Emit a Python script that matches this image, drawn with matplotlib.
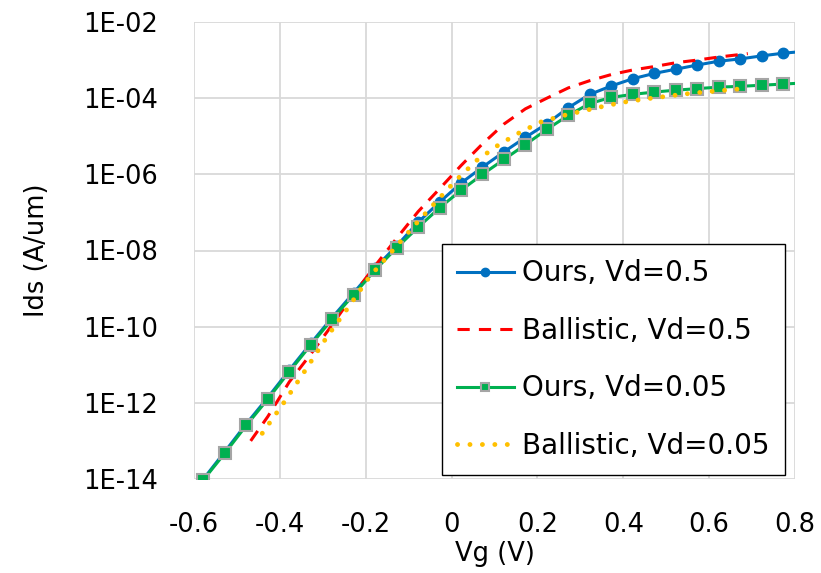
import numpy as np
import matplotlib
matplotlib.use('Agg')
import matplotlib.pyplot as plt
from matplotlib.ticker import FuncFormatter

plt.rcParams['font.family'] = ['DejaVu Sans']

# gate voltage (V) for the simulated curves
vg = [-0.578, -0.528, -0.478, -0.428, -0.378, -0.328, -0.278, -0.228, -0.178, -0.128,
      -0.078, -0.028, 0.022, 0.072, 0.122, 0.172, 0.222, 0.272, 0.322, 0.372,
      0.422, 0.472, 0.522, 0.572, 0.622, 0.672, 0.722, 0.772, 0.822]

# log10(Ids)
ours_05 = [-14.0, -13.28, -12.55, -11.86, -11.14, -10.44, -9.76, -9.11, -8.46, -7.88,
           -7.26, -6.73, -6.23, -5.81, -5.41, -5.03, -4.67, -4.25, -3.90, -3.68,
           -3.49, -3.35, -3.24, -3.13, -3.03, -2.97, -2.89, -2.82, -2.77]
ours_005 = [-14.02, -13.32, -12.59, -11.90, -11.18, -10.48, -9.80, -9.16, -8.51, -7.93,
            -7.39, -6.88, -6.42, -6.0, -5.61, -5.22, -4.82, -4.45, -4.14, -3.98,
            -3.90, -3.84, -3.79, -3.75, -3.71, -3.69, -3.66, -3.63, -3.60]

ball_05_vg = [-0.468, -0.428, -0.378, -0.328, -0.278, -0.228, -0.178, -0.128, -0.078, -0.028,
              0.022, 0.072, 0.122, 0.172, 0.222, 0.272, 0.322, 0.372, 0.422, 0.472,
              0.522, 0.572, 0.622, 0.69]
ball_05 = [-13.0, -12.36, -11.45, -10.72, -9.95, -9.15, -8.40, -7.68, -6.98, -6.38,
           -5.77, -5.2, -4.68, -4.28, -4.0, -3.73, -3.54, -3.38, -3.26, -3.17,
           -3.07, -3.0, -2.92, -2.83]

ball_005_vg = [-0.441, -0.391, -0.341, -0.291, -0.241, -0.191, -0.141, -0.091, -0.041, 0.009,
               0.059, 0.109, 0.159, 0.209, 0.259, 0.309, 0.359, 0.409, 0.459, 0.509,
               0.559, 0.609, 0.669]
ball_005 = [-12.8, -12.0, -11.15, -10.28, -9.50, -8.69, -8.05, -7.40, -6.78, -6.17,
            -5.63, -5.23, -4.90, -4.62, -4.46, -4.33, -4.20, -4.09, -4.01, -3.94,
            -3.87, -3.82, -3.76]

fig = plt.figure(figsize=(8.21, 5.73), dpi=100)
ax = fig.add_axes([194/821, 1-479/573, (795-194)/821, (479-22)/573])

ax.plot(vg, 10**np.array(ours_05), color='#0070c0', lw=2.2, marker='o', ms=7.5,
        label='Ours, Vd=0.5', zorder=3)
ax.plot(ball_05_vg, 10**np.array(ball_05), color='#ff0000', lw=2.2, linestyle=(0, (4, 3)),
        label='Ballistic, Vd=0.5', zorder=4)
ax.plot(vg, 10**np.array(ours_005), color='#00b050', lw=2.2, marker='s', ms=8,
        markerfacecolor='#00b050', markeredgecolor='#a5a5a5', markeredgewidth=1.5,
        label='Ours, Vd=0.05', zorder=5)
ax.plot(ball_005_vg, 10**np.array(ball_005), color='#ffc000', lw=3.5,
        linestyle=(0, (0.01, 2.55)), dash_capstyle='round',
        label='Ballistic, Vd=0.05', zorder=6)

ax.set_yscale('log')
ax.set_xlim(-0.6, 0.8)
ax.set_ylim(1e-14, 1e-2)
ax.set_xticks([-0.6, -0.4, -0.2, 0, 0.2, 0.4, 0.6, 0.8])
ax.set_xticklabels(['-0.6', '-0.4', '-0.2', '0', '0.2', '0.4', '0.6', '0.8'])
ax.set_yticks([1e-14, 1e-12, 1e-10, 1e-8, 1e-6, 1e-4, 1e-2])
ax.yaxis.set_minor_locator(matplotlib.ticker.NullLocator())
ax.yaxis.set_major_formatter(FuncFormatter(lambda v, p: '1E-%02d' % round(-np.log10(v))))
ax.tick_params(length=0, labelsize=18.5, colors='black')
ax.tick_params(axis='y', pad=26)
ax.tick_params(axis='x', pad=24)
ax.grid(True, color='#d9d9d9', lw=1.3)
ax.set_axisbelow(True)
for s in ax.spines.values():
    s.set_visible(False)

ax.set_xlabel('Vg (V)', fontsize=18.5, labelpad=2)
ax.set_ylabel('Ids (A/um)', fontsize=18.5, labelpad=24)

leg = ax.legend(loc='lower right', bbox_to_anchor=(785/821, 1-475/573),
                bbox_transform=fig.transFigure, borderaxespad=0, fontsize=20,
                fancybox=False, framealpha=1, edgecolor='black',
                handlelength=2.05, handletextpad=0.3, labelspacing=1.06,
                borderpad=0.55, markerscale=0.8)
leg.get_frame().set_linewidth(1.0)

fig.savefig('out.png', dpi=100)
